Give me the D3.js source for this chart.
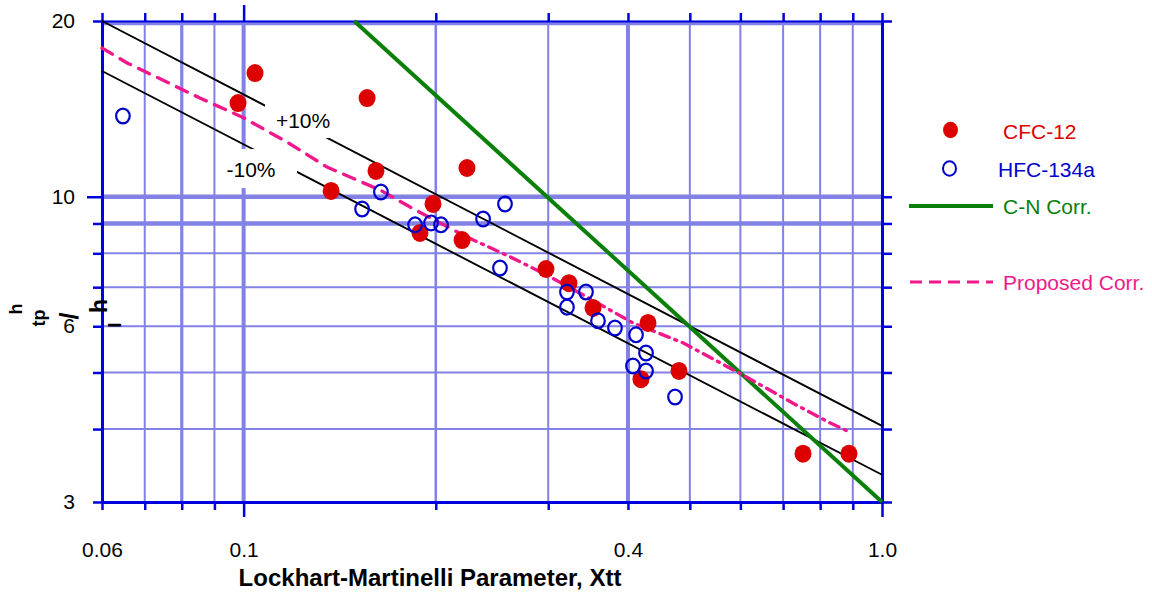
<!DOCTYPE html>
<html>
<head>
<meta charset="utf-8">
<script src="https://cdn.jsdelivr.net/npm/d3@7"></script>
<style>
  html, body { margin: 0; padding: 0; background: #fff; }
  svg { display: block; font-family: Arial, "Liberation Sans", Helvetica, sans-serif; }
</style>
</head>
<body>
<svg id="chart" width="1152" height="594"></svg>
<script>
// ---- Data: heat transfer ratio h_tp/h_l against Lockhart-Martinelli parameter Xtt ----
const cfc12X = [0.0980, 0.1042, 0.1561, 0.1612, 0.1371, 0.1980, 0.2238, 0.1889, 0.2199,
                0.2976, 0.3233, 0.3526, 0.4300, 0.4192, 0.4808, 0.7521, 0.8877];
const cfc12Y = [14.47, 16.29, 14.76, 11.07, 10.23, 9.72, 11.20, 8.67, 8.43,
                7.52, 7.11, 6.45, 6.08, 4.87, 5.03, 3.63, 3.63];

const hfcX = [0.0647, 0.1533, 0.1641, 0.1856, 0.1966, 0.2038, 0.2372, 0.2567, 0.2521, 0.3210,
              0.3438, 0.3210, 0.3590, 0.3817, 0.4118, 0.4269, 0.4073, 0.4269, 0.4740];
const hfcY = [13.75, 9.53, 10.19, 8.95, 9.02, 8.95, 9.16, 9.72, 7.55, 6.87,
              6.87, 6.47, 6.13, 5.96, 5.80, 5.40, 5.13, 5.03, 4.54];

// Proposed correlation curve
const proposedX = [0.0600, 0.0657, 0.0758, 0.0854, 0.0994, 0.1169, 0.1351, 0.1636, 0.1823, 0.2238,
                   0.2614, 0.2987, 0.3451, 0.4073, 0.4878, 0.6056, 0.7254, 0.8286, 0.8910];
const proposedY = [17.98, 16.95, 15.72, 14.76, 13.70, 12.41, 11.24, 10.27, 9.60, 8.53,
                   7.89, 7.34, 6.73, 6.08, 5.62, 4.95, 4.43, 4.10, 3.95];
const proposedDashSplit = 9; // index where the dash pattern changes

// C-N correlation
const cnCorrX = [0.149, 1.0];
const cnCorrY = [20.0, 3.0];

// +/-10% band around the proposed fit
const bandUpperX = [0.06, 1.0];
const bandUpperY = [20.0, 4.05];
const bandLowerX = [0.06, 1.0];
const bandLowerY = [16.42, 3.34];

const bandLabelText = ["+10%", "-10%"];
const bandLabelX = [0.1239, 0.1027];
const bandLabelY = [13.48, 11.11];

// Axes
const xTickValues = [0.06, 0.07, 0.08, 0.09, 0.1, 0.2, 0.3, 0.4, 0.5, 0.6, 0.7, 0.8, 0.9, 1.0];
const xTickLabels = { 0.06: "0.06", 0.1: "0.1", 0.4: "0.4", 1: "1.0" };
const yTickValues = [3, 4, 5, 6, 7, 8, 9, 10, 20];
const yTickLabels = { 3: "3", 6: "6", 10: "10", 20: "20" };
const xGridValues = [0.07, 0.08, 0.09, 0.1, 0.2, 0.3, 0.4, 0.5, 0.6, 0.7, 0.8, 0.9];
const yGridValues = [4, 5, 6, 7, 8, 9, 10, 20];

const legendLabels = ["CFC-12", "HFC-134a", "C-N Corr.", "Proposed Corr."];

// ---- Layout & styles ----
const plot = { left: 102, right: 882, top: 21, bottom: 502 };
const gridColor = "#8282e6";
const axisColor = "#0000dc";
const red = "#dc0000";
const blue = "#0000cc";
const green = "#0a800a";
const pink = "#f0188a";

const x = d3.scaleLog().domain([0.06, 1.0]).range([plot.left, plot.right]);
const y = d3.scaleLog().domain([3, 20]).range([plot.bottom, plot.top]);

const svg = d3.select("#chart");
svg.append("rect").attr("width", 1152).attr("height", 594).attr("fill", "#fff");

// ---- Grid ----
const xGridWidth = d => (d === 0.1 || d === 0.4) ? 4 : (d === 0.08 ? 3.2 : (d === 0.2 ? 2.6 : 2));
const yGridWidth = d => (d === 20 || d === 10 || d === 9) ? 4.5 : 2;

const grid = svg.append("g");
grid.selectAll("line.vx").data(xGridValues).join("line")
  .attr("class", "vx")
  .attr("x1", d => x(d)).attr("x2", d => x(d))
  .attr("y1", plot.top).attr("y2", plot.bottom)
  .attr("stroke", gridColor).attr("stroke-width", xGridWidth);
grid.selectAll("line.hy").data(yGridValues).join("line")
  .attr("class", "hy")
  .attr("x1", plot.left).attr("x2", plot.right)
  .attr("y1", d => y(d) + (d === 20 ? 2 : 0)).attr("y2", d => y(d) + (d === 20 ? 2 : 0))
  .attr("stroke", gridColor).attr("stroke-width", yGridWidth);

// ---- Axes ----
function styleAxis(g) {
  g.attr("font-family", null).attr("font-size", null);
  g.select("path.domain").attr("stroke", axisColor).attr("stroke-width", 3);
  g.selectAll(".tick line").attr("stroke", axisColor).attr("stroke-width", 2.5);
  g.selectAll(".tick text").attr("fill", "#000").attr("font-size", 21);
}

const axLeft = svg.append("g").attr("transform", `translate(${plot.left},0)`)
  .call(d3.axisLeft(y).tickValues(yTickValues).tickSize(9).tickSizeOuter(0)
        .tickPadding(18).tickFormat(d => yTickLabels[d] || ""));
styleAxis(axLeft);
axLeft.selectAll(".tick").filter(d => d === 10).select("line").attr("x2", -15);

const axRight = svg.append("g").attr("transform", `translate(${plot.right},0)`)
  .call(d3.axisRight(y).tickValues(yTickValues).tickSize(10).tickSizeOuter(0).tickFormat(""));
styleAxis(axRight);

const axBottom = svg.append("g").attr("transform", `translate(0,${plot.bottom})`)
  .call(d3.axisBottom(x).tickValues(xTickValues).tickSize(8).tickSizeOuter(0)
        .tickPadding(32).tickFormat(d => xTickLabels[d] || ""));
styleAxis(axBottom);
axBottom.selectAll(".tick").filter(d => d === 0.1 || d === 1.0).select("line").attr("y2", 15);

const axTop = svg.append("g").attr("transform", `translate(0,${plot.top})`)
  .call(d3.axisTop(x).tickValues(xTickValues).tickSize(8).tickSizeOuter(0).tickFormat(""));
styleAxis(axTop);
axTop.select("path.domain").attr("stroke-width", 2);
axTop.selectAll(".tick").filter(d => d === 0.1).select("line").attr("y2", -16);

// ---- Curves ----
const line = d3.line().x(d => x(d[0])).y(d => y(d[1]));
const zip = (xs, ys) => xs.map((v, i) => [v, ys[i]]);

const curves = svg.append("g");
curves.append("path").datum(zip(bandUpperX, bandUpperY))
  .attr("d", line).attr("fill", "none").attr("stroke", "#000").attr("stroke-width", 1.9);
curves.append("path").datum(zip(bandLowerX, bandLowerY))
  .attr("d", line).attr("fill", "none").attr("stroke", "#000").attr("stroke-width", 1.9);

// Band labels sit on white boxes that break the band lines
const labelBoxes = [
  { dx0: -38, dx1: 34, dy0: -21, dy1: 17 },
  { dx0: -30, dx1: 46, dy0: -21, dy1: 18 }
];
const bandLabels = svg.append("g");
bandLabelText.forEach((t, i) => {
  const cx = x(bandLabelX[i]), cy = y(bandLabelY[i]);
  const b = labelBoxes[i];
  bandLabels.append("rect")
    .attr("x", cx + b.dx0).attr("y", cy + b.dy0)
    .attr("width", b.dx1 - b.dx0).attr("height", b.dy1 - b.dy0)
    .attr("fill", "#fff");
  bandLabels.append("text")
    .attr("x", cx).attr("y", cy).attr("dy", "0.35em")
    .attr("text-anchor", "middle").attr("font-size", 21).attr("fill", "#000")
    .text(t);
});

// C-N correlation
svg.append("path").datum(zip(cnCorrX, cnCorrY))
  .attr("d", line).attr("fill", "none").attr("stroke", green).attr("stroke-width", 4);

// Proposed correlation (dashed, then dash-dot)
const proposed = zip(proposedX, proposedY);
svg.append("path").datum(proposed.slice(0, proposedDashSplit + 1))
  .attr("d", line).attr("fill", "none").attr("stroke", pink).attr("stroke-width", 3.4)
  .attr("stroke-dasharray", "12,9").attr("stroke-linecap", "round");
svg.append("path").datum(proposed.slice(proposedDashSplit))
  .attr("d", line).attr("fill", "none").attr("stroke", pink).attr("stroke-width", 3.4)
  .attr("stroke-dasharray", "10,6,2,6").attr("stroke-linecap", "round");

// ---- Points ----
svg.append("g").selectAll("ellipse").data(zip(cfc12X, cfc12Y)).join("ellipse")
  .attr("cx", d => x(d[0])).attr("cy", d => y(d[1]))
  .attr("rx", 8.5).attr("ry", 9).attr("fill", red);

svg.append("g").selectAll("ellipse").data(zip(hfcX, hfcY)).join("ellipse")
  .attr("cx", d => x(d[0])).attr("cy", d => y(d[1]))
  .attr("rx", 6.8).attr("ry", 7.4).attr("fill", "none")
  .attr("stroke", blue).attr("stroke-width", 2.2);

// ---- Axis titles ----
svg.append("text")
  .attr("x", 430).attr("y", 586).attr("text-anchor", "middle")
  .attr("font-size", 24).attr("font-weight", "bold").attr("fill", "#000")
  .text("Lockhart-Martinelli Parameter, Xtt");

// h_tp / h_l, set as rotated pieces
const yTitle = svg.append("g").attr("font-weight", "bold").attr("fill", "#000");
[
  { t: "h", bx: 22, cy: 309, s: 18 },
  { t: "tp", bx: 45, cy: 318, s: 18 },
  { t: "/", bx: 78, cy: 316, s: 25 },
  { t: "h", bx: 107, cy: 306, s: 23 },
  { t: "l", bx: 121, cy: 325, s: 19 }
].forEach(p => {
  yTitle.append("text")
    .attr("transform", `translate(${p.bx},${p.cy}) rotate(-90)`)
    .attr("text-anchor", "middle").attr("font-size", p.s)
    .text(p.t);
});

// ---- Legend ----
const legend = svg.append("g").attr("font-size", 21);
legend.append("ellipse").attr("cx", 950.5).attr("cy", 130).attr("rx", 7.5).attr("ry", 8.3).attr("fill", red);
legend.append("text").attr("x", 1003).attr("y", 139).attr("fill", red).text(legendLabels[0]);

legend.append("ellipse").attr("cx", 949.5).attr("cy", 168.5).attr("rx", 6.5).attr("ry", 7.3)
  .attr("fill", "none").attr("stroke", blue).attr("stroke-width", 2);
legend.append("text").attr("x", 998).attr("y", 177).attr("fill", blue).text(legendLabels[1]);

legend.append("line").attr("x1", 909).attr("x2", 993).attr("y1", 206).attr("y2", 206)
  .attr("stroke", green).attr("stroke-width", 4);
legend.append("text").attr("x", 1003).attr("y", 214).attr("fill", green).text(legendLabels[2]);

legend.append("line").attr("x1", 910).attr("x2", 993).attr("y1", 282).attr("y2", 282)
  .attr("stroke", pink).attr("stroke-width", 3.2).attr("stroke-dasharray", "12,7");
legend.append("text").attr("x", 1003).attr("y", 290).attr("fill", pink).text(legendLabels[3]);
</script>
</body>
</html>
